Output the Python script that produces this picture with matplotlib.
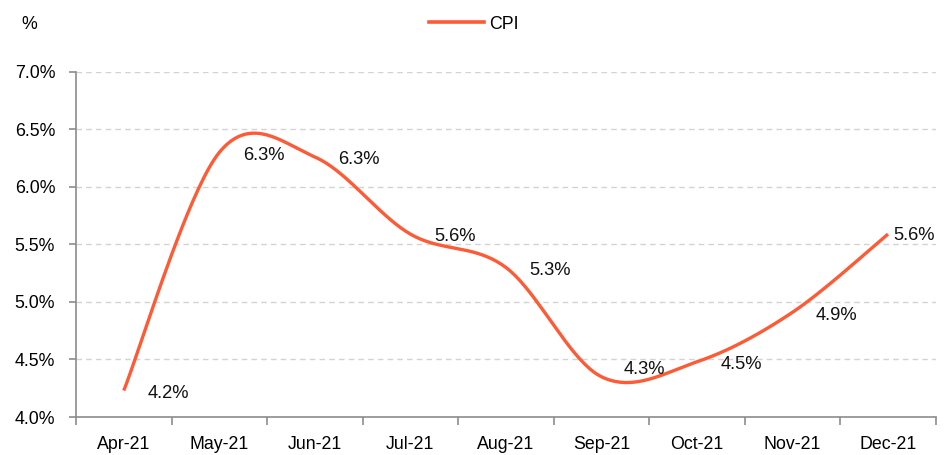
import numpy as np
import matplotlib
matplotlib.use("Agg")
import matplotlib.pyplot as plt
from matplotlib.lines import Line2D

months = ["Apr-21", "May-21", "Jun-21", "Jul-21", "Aug-21", "Sep-21", "Oct-21", "Nov-21", "Dec-21"]
cpi = [4.23, 6.30, 6.26, 5.59, 5.30, 4.35, 4.48, 4.91, 5.59]
yticks = [4.0, 4.5, 5.0, 5.5, 6.0, 6.5, 7.0]

plt.rcParams['font.family'] = ['Liberation Sans', 'DejaVu Sans']
FS = 12.8
FSL = 13.2
LINE = '#FF5A36'
GRAY = '#8C8C8C'

# label offsets in points (style only)
label_offsets = [(17, -2)] * 5 + [(16, 5)] + [(17, -2)] * 2 + [(3.5, -1)]

def smooth(x, y, n=40):
    # Excel-like smoothing: cubic Bezier with Catmull-Rom control points
    x = np.asarray(x, float); y = np.asarray(y, float)
    px, py = [], []
    N = len(x)
    for i in range(N - 1):
        x0, y0 = (x[i-1], y[i-1]) if i > 0 else (x[i], y[i])
        x3, y3 = (x[i+2], y[i+2]) if i + 2 < N else (x[i+1], y[i+1])
        c1x = x[i] + (x[i+1] - x0) / 6; c1y = y[i] + (y[i+1] - y0) / 6
        c2x = x[i+1] - (x3 - x[i]) / 6; c2y = y[i+1] - (y3 - y[i]) / 6
        t = np.linspace(0, 1, n, endpoint=(i == N - 2))
        b0 = (1-t)**3; b1 = 3*(1-t)**2*t; b2 = 3*(1-t)*t**2; b3 = t**3
        px.extend(b0*x[i] + b1*c1x + b2*c2x + b3*x[i+1])
        py.extend(b0*y[i] + b1*c1y + b2*c2y + b3*y[i+1])
    return np.array(px), np.array(py)

fig = plt.figure(figsize=(9.5, 4.55), dpi=100)
ax = fig.add_axes([0.080, 0.0835, 0.905, 0.7585])

xs = np.arange(len(months))
sx, sy = smooth(xs, cpi)
ax.plot(sx, sy, color=LINE, lw=2.4, solid_capstyle='butt', zorder=3)

for xi, v, off in zip(xs, cpi, label_offsets):
    ax.annotate(f"{v:.1f}%", (xi, v), xytext=off, textcoords='offset points',
                ha='left', va='center', fontsize=FSL, color='#111111', zorder=4)

ax.set_xlim(-0.5, len(months) - 0.5)
ax.set_ylim(4.0, 7.0)
ax.set_yticks(yticks)
ax.set_yticklabels([f"{t:.1f}%" for t in yticks], fontsize=FS)
ax.set_xticks(xs)
ax.set_xticklabels(months, fontsize=FS)
ax.set_xticks(np.arange(-0.5, len(months)), minor=True)
ax.tick_params(axis='x', which='major', length=0, pad=14)
ax.tick_params(axis='x', which='minor', length=6, color=GRAY, width=1.2, direction='out')
ax.tick_params(axis='y', length=5, color=GRAY, width=1.2, direction='out', pad=10)

ax.grid(axis='y', color='#D3D3D3', linestyle=(0, (4, 3)), lw=1)
ax.set_axisbelow(True)
for s in ['top', 'right']:
    ax.spines[s].set_visible(False)
for s in ['left', 'bottom']:
    ax.spines[s].set_color(GRAY)
    ax.spines[s].set_linewidth(1.2)

fig.text(0.023, 0.947, "%", fontsize=FS, ha='left', va='center')
handle = Line2D([0], [0], color=LINE, lw=2.6)
fig.legend([handle], ["CPI"], loc='center', bbox_to_anchor=(0.499, 0.947), frameon=False,
           fontsize=FS, handlelength=3.1, handletextpad=0.3)

fig.savefig("out.png", dpi=100)
